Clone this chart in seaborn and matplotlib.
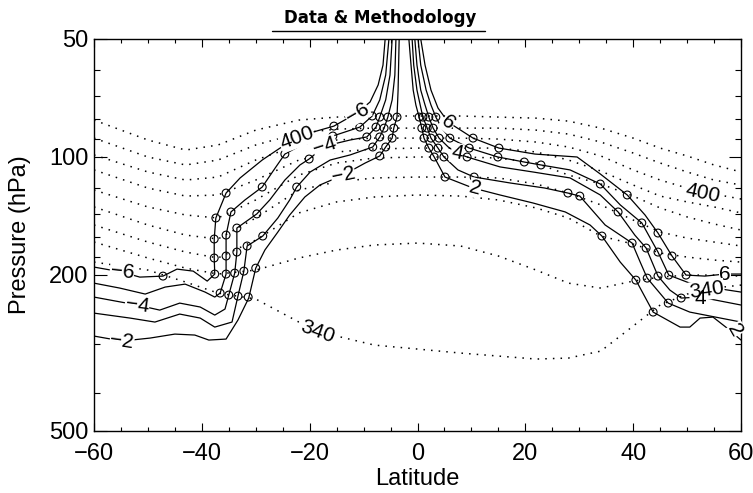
import matplotlib
matplotlib.use("Agg")
import matplotlib.pyplot as plt
import seaborn as sns
from matplotlib.lines import Line2D
from matplotlib.ticker import NullFormatter

# izentropy (K) - cisnienie w hPa odczytane na stalych szerokosciach
theta_lat = [-60, -50, -43, -37, -30, -22, -15, -8, 0, 8, 15, 22, 28, 34, 40, 45, 50, 55, 60]
theta_420 = [80.5, 90.5, 96.0, 93.2, 85.4, 80.5, 79.1, 78.6, 78.6, 78.6, 79.1, 79.6, 81.0, 84.4, 89.5, 94.9, 99.4, 104.8, 109.2]
theta_410 = [89.5, 100.0, 104.8, 101.8, 93.2, 86.9, 84.9, 84.4, 84.4, 84.4, 84.4, 85.4, 87.4, 91.6, 97.7, 103.6, 109.2, 114.5, 117.9]
theta_400 = [98.8, 109.2, 114.5, 112.5, 101.8, 93.2, 90.5, 89.5, 89.5, 89.5, 90.0, 91.6, 94.3, 99.4, 107.9, 114.5, 120.0, 124.3, 128.0]
theta_390 = [107.9, 120.0, 125.8, 125.0, 114.5, 101.8, 97.1, 95.4, 94.9, 94.9, 94.9, 97.1, 101.8, 108.6, 117.9, 125.8, 130.2, 134.1, 138.9]
theta_380 = [121.4, 134.1, 140.6, 143.1, 128.7, 111.2, 103.6, 100.6, 100.0, 100.0, 100.6, 103.6, 111.2, 117.2, 125.8, 134.9, 142.2, 148.2, 153.6]
theta_370 = [134.1, 149.1, 158.2, 161.9, 143.1, 121.4, 115.8, 113.1, 112.5, 112.5, 113.1, 117.2, 123.6, 132.5, 144.8, 155.4, 161.0, 164.8, 168.7]
theta_360 = [149.1, 164.8, 174.8, 181.0, 162.9, 138.9, 130.2, 126.5, 125.0, 125.8, 128.7, 134.9, 143.1, 159.1, 166.8, 175.8, 180.0, 183.2, 185.4]
theta_350 = [164.8, 181.0, 192.1, 198.9, 194.3, 181.0, 172.7, 167.7, 165.8, 168.7, 178.9, 194.3, 209.8, 216.0, 207.3, 202.5, 200.1, 200.1, 201.3]
theta_340 = [185.4, 194.3, 208.5, 222.4, 230.3, 263.7, 286.3, 301.9, 309.0, 316.4, 322.0, 327.7, 325.8, 312.7, 269.9, 238.6, 223.7, 216.0, 212.2]

# kontury PV (PVU) - polkula poludniowa
pv_m6_lat = [-60.0, -54.8, -51.5, -47.2, -44.6, -41.6, -39.0, -37.6, -37.7, -37.7, -37.4, -35.5, -32.9, -28.8, -25.5, -22.4, -19.4, -15.5, -11.2, -8.8, -7.3, -6.4, -6.0]
pv_m6_p = [190.9, 196.6, 202.5, 201.3, 193.2, 195.5, 207.3, 198.9, 181.0, 161.9, 143.1, 123.6, 113.1, 101.8, 94.9, 90.0, 86.4, 83.4, 77.2, 72.4, 65.5, 58.3, 50.0]
pv_m5_lat = [-60.0, -55.2, -50.5, -46.8, -43.1, -39.4, -37.6, -36.6, -35.5, -35.5, -35.5, -34.6, -32.0, -28.8, -26.4, -24.6, -20.9, -15.7, -10.7, -8.4, -7.0, -5.9, -5.3]
pv_m5_p = [209.8, 216.0, 223.7, 214.7, 211.0, 221.1, 227.7, 222.4, 198.9, 178.9, 158.2, 138.1, 128.7, 119.3, 106.7, 98.3, 92.2, 88.4, 83.9, 78.6, 71.5, 61.8, 50.0]
pv_m4_lat = [-60.0, -52.0, -47.8, -44.1, -40.3, -37.6, -35.7, -35.0, -33.9, -33.5, -33.5, -29.8, -27.4, -24.6, -21.8, -20.1, -17.2, -12.5, -9.4, -7.7, -7.0, -5.9, -5.1, -4.7]
pv_m4_p = [227.7, 238.6, 245.8, 235.9, 241.4, 253.1, 244.3, 225.0, 197.8, 174.8, 151.8, 139.7, 128.7, 114.5, 104.8, 101.2, 93.8, 90.5, 88.9, 83.9, 79.1, 71.5, 61.8, 50.0]
pv_m3_lat = [-60.0, -53.3, -48.7, -44.1, -40.3, -37.6, -34.4, -33.3, -32.2, -31.6, -28.7, -25.9, -23.7, -22.4, -19.9, -16.2, -12.5, -8.3, -7.0, -6.2, -5.5, -4.7, -4.2, -4.0]
pv_m3_p = [250.2, 257.6, 263.7, 251.6, 257.6, 271.6, 263.7, 226.4, 195.5, 168.7, 159.1, 143.1, 128.7, 119.3, 109.2, 101.8, 98.8, 94.3, 88.9, 84.4, 79.1, 71.5, 61.8, 50.0]
pv_m2_lat = [-60.0, -54.8, -49.6, -45.0, -41.3, -38.7, -35.5, -33.3, -31.3, -30.0, -28.3, -25.9, -23.7, -20.9, -18.1, -13.8, -9.7, -7.0, -5.9, -4.7, -4.4, -3.8, -3.6, -3.4]
pv_m2_p = [286.3, 294.8, 289.7, 283.0, 284.6, 293.1, 291.4, 260.6, 229.0, 192.1, 172.7, 155.4, 140.6, 126.5, 117.9, 111.2, 103.6, 99.4, 94.3, 89.5, 84.4, 79.1, 67.5, 50.0]

# kontury PV (PVU) - polkula polnocna
pv_2_lat = [-1.6, -1.2, -0.8, -0.3, 0.3, 0.8, 1.2, 2.1, 3.1, 4.2, 5.1, 10.3, 15.3, 21.4, 27.4, 32.0, 34.2, 37.6, 40.5, 43.7, 48.7, 50.5, 52.4, 54.8, 57.4, 60.0]
pv_2_p = [50.0, 58.3, 67.5, 73.7, 79.1, 84.4, 89.5, 94.9, 100.0, 106.7, 112.5, 120.0, 125.0, 131.0, 138.1, 149.1, 159.1, 185.4, 206.1, 248.7, 271.6, 271.6, 257.6, 256.1, 273.1, 293.1]
pv_3_lat = [-1.0, -0.7, -0.1, 0.5, 1.0, 1.8, 2.5, 3.8, 4.9, 7.5, 10.5, 17.2, 23.6, 27.9, 30.1, 34.8, 39.8, 41.3, 42.6, 46.5, 50.5, 60.0]
pv_3_p = [50.0, 58.3, 67.5, 73.7, 79.1, 84.4, 89.5, 94.9, 100.0, 107.9, 112.5, 116.5, 120.0, 123.6, 125.8, 149.1, 165.8, 185.4, 203.7, 235.9, 248.7, 263.7]
pv_4_lat = [-0.5, -0.1, 0.6, 1.4, 2.1, 2.9, 4.0, 5.7, 7.3, 9.2, 15.3, 21.4, 28.3, 33.9, 37.2, 40.3, 42.4, 44.6, 46.8, 48.9, 52.4, 60.0]
pv_4_p = [50.0, 58.3, 67.5, 73.7, 79.1, 84.4, 89.5, 94.3, 97.7, 100.0, 106.0, 109.2, 113.1, 125.0, 138.1, 158.2, 170.7, 201.3, 218.5, 229.0, 227.7, 238.6]
pv_5_lat = [0.1, 0.6, 1.6, 2.5, 3.4, 4.5, 6.0, 9.6, 14.9, 19.8, 22.9, 28.3, 33.9, 37.6, 41.6, 44.6, 46.6, 50.5, 55.2, 60.0]
pv_5_p = [50.0, 58.3, 67.5, 73.7, 79.1, 84.4, 89.5, 94.9, 100.0, 103.0, 104.8, 107.9, 117.2, 132.5, 147.3, 174.8, 200.1, 209.8, 216.0, 221.1]
pv_6_lat = [0.6, 1.4, 2.5, 3.8, 5.7, 10.3, 15.1, 21.8, 29.6, 33.9, 38.9, 42.2, 44.6, 47.2, 49.8, 53.3, 57.0, 60.0]
pv_6_p = [50.0, 58.3, 67.5, 75.0, 81.5, 89.5, 94.9, 98.3, 100.0, 110.5, 125.0, 140.6, 156.3, 178.9, 200.1, 201.3, 198.9, 198.9]

# punkty przeciecia (kolka)
circ_s_lat = [-8.4, -7.0, -5.5, -3.8, -15.5, -10.7, -7.7, -6.2, -4.4, -15.7, -9.4, -7.0, -4.7, -24.6,
              -8.3, -5.9, -20.1, -7.0, -28.8, -22.4, -35.5, -37.4, -34.6, -29.8, -37.7, -35.5, -33.5,
              -28.7, -37.7, -35.5, -33.5, -31.6, -37.6, -35.5, -33.9, -32.2, -30.0, -47.2, -36.6,
              -35.0, -33.3, -31.4]
circ_s_p = [78.6, 79.1, 79.1, 79.1, 83.4, 83.9, 83.9, 84.4, 84.4, 88.4, 88.9, 88.9, 89.5, 98.3,
            94.3, 94.3, 101.2, 99.4, 119.3, 119.3, 123.6, 143.1, 138.1, 139.7, 161.9, 158.2, 151.8,
            159.1, 181.0, 178.9, 174.8, 168.7, 198.9, 198.9, 197.8, 195.5, 192.1, 201.3, 222.4,
            225.0, 226.4, 227.7]
circ_n_lat = [0.3, 1.0, 2.1, 3.4, 0.8, 1.8, 2.9, 1.2, 2.5, 4.0, 6.0, 10.3, 2.1, 3.8, 9.6, 15.1,
              3.1, 4.9, 9.2, 14.9, 19.8, 22.9, 5.1, 10.5, 27.9, 30.1, 33.9, 38.9, 37.2, 41.6, 44.6,
              34.2, 39.8, 42.4, 44.6, 47.2, 40.5, 42.6, 44.6, 46.6, 49.8, 43.7, 46.5, 48.9]
circ_n_p = [79.1, 79.1, 79.1, 79.1, 84.4, 84.4, 84.4, 89.5, 89.5, 89.5, 89.5, 89.5, 94.9, 94.9,
            94.9, 94.9, 100.0, 100.0, 100.0, 100.0, 103.0, 104.8, 112.5, 112.5, 123.6, 125.8,
            117.2, 125.0, 138.1, 147.3, 156.3, 159.1, 165.8, 170.7, 174.8, 178.9, 206.1, 203.7,
            201.3, 200.1, 200.1, 248.7, 235.9, 229.0]

x_ticks = [-60, -40, -20, 0, 20, 40, 60]
x_tick_labels = ["\u221260", "\u221240", "\u221220", "0", "20", "40", "60"]
y_ticks = [50, 100, 200, 500]
y_tick_labels = ["50", "100", "200", "500"]
y_minor = [60, 70, 80, 90, 120, 140, 160, 180, 300, 400]

# styl wykresu
sns.set_style("ticks", rc={"axes.edgecolor": "black", "xtick.color": "black",
                           "ytick.color": "black", "text.color": "black",
                           "axes.labelcolor": "black"})
plt.rcParams["font.family"] = ["Liberation Sans", "DejaVu Sans"]

fig = plt.figure(figsize=(7.53, 4.93), dpi=100)
ax = fig.add_axes([0.1248, 0.1258, 0.8593, 0.7951])

# izentropy - linie kropkowane
dotted = (0, (1, 4))
for pres in [theta_420, theta_410, theta_400, theta_390, theta_380,
             theta_370, theta_360, theta_350, theta_340]:
    sns.lineplot(x=theta_lat, y=pres, ax=ax, color="black", lw=1.1,
                 linestyle=dotted, sort=False, estimator=None)

# kontury PV - linie ciagle
pv_lines = [(pv_m6_lat, pv_m6_p), (pv_m5_lat, pv_m5_p), (pv_m4_lat, pv_m4_p),
            (pv_m3_lat, pv_m3_p), (pv_m2_lat, pv_m2_p), (pv_2_lat, pv_2_p),
            (pv_3_lat, pv_3_p), (pv_4_lat, pv_4_p), (pv_5_lat, pv_5_p), (pv_6_lat, pv_6_p)]
for lat, pres in pv_lines:
    sns.lineplot(x=lat, y=pres, ax=ax, color="black", lw=0.9, sort=False, estimator=None)

# kolka
for lat, pres in [(circ_s_lat, circ_s_p), (circ_n_lat, circ_n_p)]:
    sns.scatterplot(x=lat, y=pres, ax=ax, marker="o", s=32, facecolors="none",
                    edgecolors="black", linewidth=0.8, zorder=4)

# etykiety konturow
labels = [("\u22126", -11.2, 77.2, 30), ("\u22124", -17.2, 93.8, 18), ("\u22122", -13.8, 111.2, 12),
          ("400", -22.4, 89.5, 20), ("\u22126", -54.8, 196.6, -6), ("\u22124", -52.0, 238.6, -8),
          ("\u22122", -54.8, 294.8, -8), ("340", -18.5, 279.6, -20), ("6", 5.7, 81.5, -40),
          ("4", 7.3, 97.7, -12), ("2", 10.7, 120.0, -15), ("400", 53.0, 123.6, -12),
          ("6", 57.0, 198.9, 0), ("340", 53.6, 218.5, 8), ("2", 58.9, 276.4, -60)]
for txt, lat, pres, rot in labels:
    ax.text(lat, pres, txt, fontsize=15, ha="center", va="center", rotation=rot, zorder=5,
            bbox=dict(facecolor="white", edgecolor="none", pad=0.3))
ax.text(52.4, 229.0, "4", fontsize=15, ha="center", va="center", zorder=6)

# osie
ax.set_yscale("log")
ax.set_xlim(-60, 60)
ax.set_ylim(500, 50)
ax.set_xticks(x_ticks, labels=x_tick_labels)
ax.set_xticks(range(-60, 61, 5), minor=True)
ax.set_yticks(y_ticks, labels=y_tick_labels)
ax.set_yticks(y_minor, minor=True)
ax.yaxis.set_minor_formatter(NullFormatter())

ax.tick_params(axis="x", which="major", direction="in", length=6, width=0.8, top=True, pad=9, labelsize=17)
ax.tick_params(axis="x", which="minor", direction="in", length=3, width=0.8, top=True)
ax.tick_params(axis="y", which="major", direction="in", length=9, width=0.8, right=True, pad=4, labelsize=17)
ax.tick_params(axis="y", which="minor", direction="in", length=4.5, width=0.8, right=True)
for sp in ax.spines.values():
    sp.set_linewidth(1.0)

ax.set_xlabel("Latitude", fontsize=17)
ax.set_ylabel("Pressure (hPa)", fontsize=17)
ax.xaxis.set_label_coords(0.5, -0.094)
ax.yaxis.set_label_coords(-0.097, 0.5)

# tytul z podkresleniem
fig.text(0.505, 0.963, "Data & Methodology", ha="center", va="center", fontsize=12,
         fontweight="bold", family="DejaVu Sans")
fig.add_artist(Line2D([0.361, 0.644], [0.937, 0.937], color="black", lw=1.0,
                      transform=fig.transFigure))

fig.savefig("out.png", dpi=100)
plt.close(fig)
